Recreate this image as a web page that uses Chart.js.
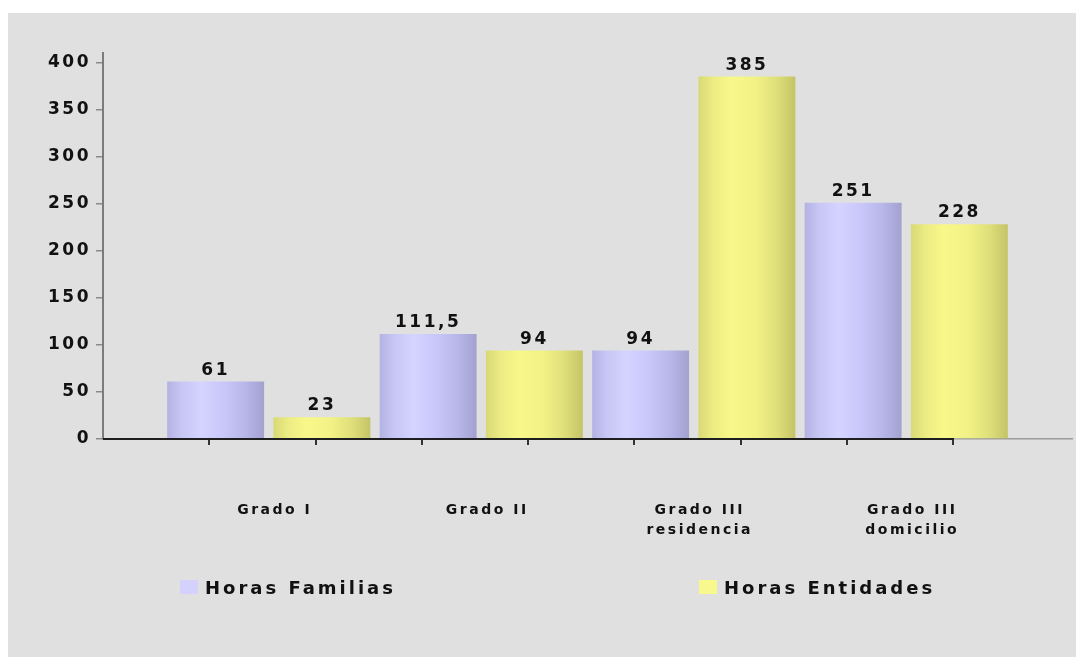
<!DOCTYPE html>
<html lang="es">
<head>
<meta charset="utf-8">
<title>Horas Familias / Horas Entidades</title>
<script src="https://cdn.jsdelivr.net/npm/chart.js@4.4.1/dist/chart.umd.min.js"></script>
<style>
    html, body { margin: 0; background: #ffffff; }
    #panel { position: absolute; left: 8px; top: 13px; width: 1068px; height: 644px; background: #e0e0e0; }
    #grafica { position: absolute; left: 0; top: 0; }
    .item { position: absolute; top: 567px; height: 14px; display: flex; align-items: center;
            font: bold 18px "DejaVu Sans"; letter-spacing: 3px; color: #111; white-space: nowrap; }
    .caja { width: 18px; height: 14px; margin-right: 7px; flex: none; }
</style>
</head>
<body>
<div id="panel">
    <canvas id="grafica" width="1068" height="644"></canvas>
    <div id="leyenda"></div>
</div>
<script>
const categorias = ["Grado I", "Grado II", ["Grado III", "residencia"], ["Grado III", "domicilio"]];
const series = ["Horas Familias", "Horas Entidades"];
const horasFamilias = [61, 111.5, 94, 251];
const horasEntidades = [23, 94, 385, 228];
const ticksY = [0, 50, 100, 150, 200, 250, 300, 350, 400];
const marcasX = [1, 2, 3, 4, 5, 6, 7, 8];

// colores
const colorLeyenda = ["#d4d2fc", "#f8f88c"];
const sombras = [
    [[0, "#b3b2e3"], [0.15, "#c7c6f4"], [0.35, "#d5d3ff"], [0.6, "#c8c6f9"], [0.8, "#b8b7ea"], [1, "#a2a1cf"]],
    [[0, "#d8d876"], [0.15, "#ecec84"], [0.35, "#f8f88a"], [0.6, "#f1f185"], [0.8, "#e0e07b"], [1, "#c4c468"]]
];

// eje de marcas: cada categoria ocupa 2 unidades, desplazada 1.56
const finEje = 9.12;
const desfase = 1.56;

const formato = new Intl.NumberFormat("es-ES");

const espaciado = {
    id: "espaciado",
    beforeDraw(chart) {
        chart.ctx.letterSpacing = "2.5px";
    }
};

const sombreado = {
    id: "sombreado",
    beforeDatasetsDraw(chart) {
        const ctx = chart.ctx;
        chart.data.datasets.forEach((ds, i) => {
            chart.getDatasetMeta(i).data.forEach(bar => {
                const izq = bar.x - bar.width / 2;
                const g = ctx.createLinearGradient(izq, 0, izq + bar.width, 0);
                sombras[i].forEach(([p, c]) => g.addColorStop(p, c));
                bar.options.backgroundColor = g;
            });
        });
    }
};

const etiquetas = {
    id: "etiquetas",
    afterDatasetsDraw(chart) {
        const ctx = chart.ctx;
        ctx.save();
        ctx.font = "bold 17px 'DejaVu Sans'";
        ctx.fillStyle = "#111";
        ctx.textAlign = "center";
        ctx.textBaseline = "alphabetic";
        chart.data.datasets.forEach((ds, i) => {
            chart.getDatasetMeta(i).data.forEach((bar, j) => {
                ctx.fillText(formato.format(ds.data[j]), bar.x, bar.y - 7);
            });
        });
        // tramo oscuro del eje x
        const s = chart.scales.x2;
        ctx.strokeStyle = "#1e1e1e";
        ctx.lineWidth = 2;
        ctx.beginPath();
        ctx.moveTo(s.left, s.top);
        ctx.lineTo(s.getPixelForValue(marcasX[marcasX.length - 1]) + 1, s.top);
        ctx.stroke();
        ctx.restore();
    }
};

const grafica = new Chart("grafica", {
    type: "bar",
    data: {
        labels: categorias,
        datasets: [
            {
                label: series[0],
                data: horasFamilias,
                backgroundColor: () => colorLeyenda[0],
                borderWidth: 0,
                categoryPercentage: 1,
                barPercentage: 0.9125,
                xAxisID: "x"
            },
            {
                label: series[1],
                data: horasEntidades,
                backgroundColor: () => colorLeyenda[1],
                borderWidth: 0,
                categoryPercentage: 1,
                barPercentage: 0.9125,
                xAxisID: "x"
            }
        ]
    },
    plugins: [espaciado, sombreado, etiquetas],
    options: {
        responsive: false,
        animation: false,
        font: { family: "'DejaVu Sans'" },
        layout: {
            padding: { top: 40, right: 4, left: 0, bottom: 0 }
        },
        scales: {
            x: {
                type: "category",
                position: "bottom",
                weight: 1,
                grid: { display: false, drawTicks: false },
                border: { display: false },
                ticks: {
                    color: "#111",
                    font: { family: "'DejaVu Sans'", size: 14, weight: "bold", lineHeight: 1.4 },
                    padding: 54,
                    labelOffset: 6,
                    maxRotation: 0,
                    autoSkip: false
                },
                afterBuildTicks: (s) => {
                    s._startValue = -desfase / 2;
                    s._valueRange = finEje / 2;
                },
                afterFit: (s) => { s.height = 210; }
            },
            x2: {
                type: "linear",
                position: "bottom",
                weight: 0,
                min: 0,
                max: finEje,
                offset: false,
                grid: { offset: false, drawOnChartArea: false, drawTicks: true, tickLength: 6, color: "#333", lineWidth: 2 },
                border: { color: "#9a9a9a", width: 1.5 },
                ticks: { display: false, autoSkip: false },
                afterBuildTicks: (s) => { s.ticks = marcasX.map(v => ({ value: v })); },
                afterFit: (s) => { s.height = 8; }
            },
            y: {
                min: 0,
                max: 410,
                grid: { drawOnChartArea: false, tickLength: 7, color: "#8a8a8a", lineWidth: 1.5 },
                border: { color: "#7c7c7c", width: 2 },
                ticks: {
                    color: "#111",
                    font: { family: "'DejaVu Sans'", size: 17, weight: "bold" },
                    padding: 5
                },
                afterBuildTicks: (s) => { s.ticks = ticksY.map(v => ({ value: v })); },
                afterFit: (s) => { s.width = 95; }
            }
        },
        plugins: {
            legend: { display: false },
            tooltip: { enabled: false }
        }
    }
});

// leyenda en html
const posLeyenda = [172, 691];
const leyenda = document.getElementById("leyenda");
series.forEach((nombre, i) => {
    const item = document.createElement("div");
    item.className = "item";
    item.style.left = posLeyenda[i] + "px";
    const caja = document.createElement("span");
    caja.className = "caja";
    caja.style.background = colorLeyenda[i];
    item.appendChild(caja);
    item.appendChild(document.createTextNode(nombre));
    leyenda.appendChild(item);
});
</script>
</body>
</html>
